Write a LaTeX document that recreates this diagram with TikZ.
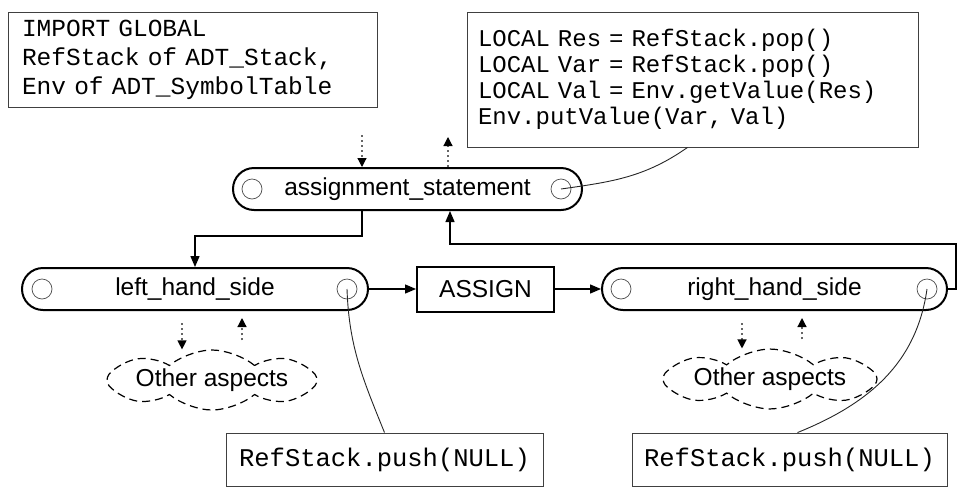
\documentclass[tikz,border=0pt]{standalone}
\usepackage{fontspec}
\setmainfont{Liberation Sans}
\setmonofont{Liberation Mono}
\usetikzlibrary{arrows.meta, positioning, shapes.misc, shapes.symbols}

\begin{document}
\begin{tikzpicture}[
    x=1pt, y=-1pt,
    rule/.style={rounded rectangle, draw, line width=2pt, minimum height=42pt, inner sep=0pt, font=\fontsize{24.5}{26}\selectfont},
    port/.style={circle, draw=black!70, line width=0.7pt, minimum size=20pt, inner sep=0pt},
    codebox/.style={rectangle, draw=black!75, line width=0.9pt, align=left, font=\fontsize{24}{26}\ttfamily\selectfont},
    token/.style={rectangle, draw, line width=2pt, minimum width=137pt, minimum height=45pt, font=\fontsize{24.5}{26}\selectfont},
    aspects/.style={cloud, cloud puffs=8, cloud puff arc=80, cloud ignores aspect, draw, line width=1.2pt, dash pattern=on 8pt off 5pt, minimum width=210pt, minimum height=60pt, inner sep=0pt, font=\fontsize{24.5}{26}\selectfont},
    flow/.style={-{Triangle[length=11pt,width=9pt]}, line width=1.3pt},
    dotflow/.style={-{Triangle[length=9pt,width=9pt,color=black]}, draw=black!60, line width=1.2pt, dash pattern=on 2pt off 3pt},
    link/.style={draw=black!85, line width=0.9pt},
  ]
  \useasboundingbox (0,0) rectangle (959,488);

  % code fragments
  \node[codebox, text width=341pt, inner xsep=14pt, minimum height=95pt, font=\fontsize{24.5}{29}\ttfamily\selectfont] (imports) at (192.5,59.5)
    {\raisebox{-3pt}{IMPORT GLOBAL}\\\raisebox{-3pt}{RefStack of ADT\_Stack,}\\\raisebox{-3pt}{Env of ADT\_SymbolTable}};
  \node[codebox, text width=429pt, inner xsep=11pt, minimum height=135pt] (code) at (692.5,79.5)
    {LOCAL Res = RefStack.pop()\\LOCAL Var = RefStack.pop()\\LOCAL Val = Env.getValue(Res)\\Env.putValue(Var, Val)};

  % grammar rules
  \node[rule, minimum width=349pt] (asg) at (407.5,189) {assignment\_statement};
  \node[rule, minimum width=346pt] (lhs) at (195,289) {left\_hand\_side};
  \node[token, right=47pt of lhs] (assign) {ASSIGN};
  \node[rule, minimum width=345pt, right=46pt of assign] (rhs) {right\_hand\_side};

  \node[port] (asgL) at ([xshift=20]asg.west) {};
  \node[port] (asgR) at ([xshift=-22]asg.east) {};
  \node[port] (lhsL) at ([xshift=21]lhs.west) {};
  \node[port] (lhsR) at ([xshift=-22]lhs.east) {};
  \node[port] (rhsL) at ([xshift=20]rhs.west) {};
  \node[port] (rhsR) at ([xshift=-21]rhs.east) {};

  \node[aspects] (lOther) at (212,380) {Other aspects};
  \node[aspects, minimum width=214pt, minimum height=58pt] (rOther) at (770,379) {Other aspects};

  \node[codebox, minimum width=317pt, minimum height=53pt, font=\fontsize{25.5}{27}\ttfamily\selectfont] (lPush) at (384.5,459.5) {RefStack.push(NULL)};
  \node[codebox, minimum width=315pt, minimum height=53pt, font=\fontsize{25.5}{27}\ttfamily\selectfont] (rPush) at (789.5,459.5) {RefStack.push(NULL)};

  % control flow
  \coordinate (loopR) at (956,244);
  \draw[flow] ([xshift=-45.5]asg.south) -- ++(0,25) -| (lhs.north);
  \draw[flow] (lhs.east) -- (assign.west);
  \draw[flow] (assign.east) -- (rhs.west);
  \draw[flow] (rhs.east) -- (rhs.east -| loopR) -- (loopR) -| ([xshift=42.5]asg.south);

  % inherited / synthesized
  \coordinate (asgIn) at (362,135);
  \coordinate (asgOut) at (448,137);
  \draw[dotflow] (asgIn) -- (asgIn |- asg.north);
  \draw[dotflow] (asgOut |- asg.north) -- (asgOut);
  \coordinate (lIn) at (182,0);
  \coordinate (lOut) at (242,0);
  \coordinate (rIn) at (742,0);
  \coordinate (rOut) at (802,0);
  \draw[dotflow, shorten <=12pt] (lIn |- lhs.south) -- (lIn |- lOther.north);
  \draw[dotflow, shorten <=9pt, shorten >=7pt] (lOut |- lOther.north) -- (lOut |- lhs.south);
  \draw[dotflow, shorten <=12pt] (rIn |- rhs.south) -- (rIn |- rOther.north);
  \draw[dotflow, shorten <=9pt, shorten >=7pt] (rOut |- rOther.north) -- (rOut |- rhs.south);

  % actions
  \draw[link] (asgR.center) to[out=8, in=215] ([xshift=-5]code.south);
  \draw[link] (lhsR.center) to[out=-88, in=112] (lPush.north);
  \draw[link] (rhsR.center) to[out=-98, in=22] ([xshift=8]rPush.north);
\end{tikzpicture}
\end{document}
